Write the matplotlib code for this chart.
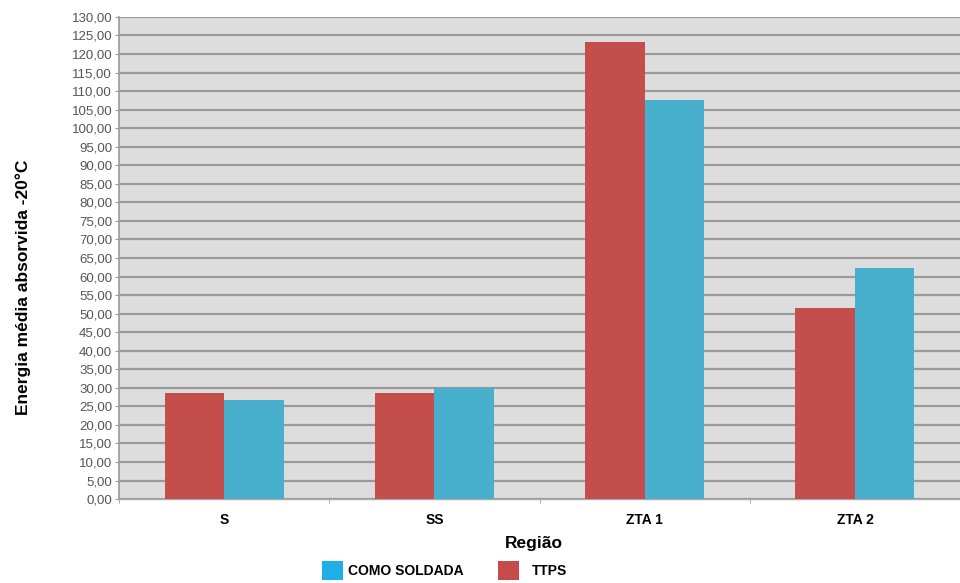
import matplotlib.pyplot as plt
import matplotlib.patches as patches
from matplotlib.ticker import FuncFormatter
import numpy as np

plt.rcParams['font.family'] = ['Liberation Sans', 'DejaVu Sans']

regioes = ['S', 'SS', 'ZTA 1', 'ZTA 2']
ttps = [28.6, 28.6, 123.2, 51.4]
como_soldada = [26.8, 30.0, 107.6, 62.4]
y_ticks = np.arange(0, 131, 5)

cor_ttps = '#c44e4c'
cor_cs = '#48afcc'

fig = plt.figure(figsize=(9.6, 5.83), dpi=100)
fig.patch.set_facecolor('white')
ax = fig.add_axes([0.124, 0.144, 0.876, 0.827])
ax.set_facecolor('#dddddd')

x = np.arange(len(regioes))
w = 0.283
ax.bar(x - w / 2, ttps, w, color=cor_ttps, zorder=3)
ax.bar(x + w / 2, como_soldada, w, color=cor_cs, zorder=3)

ax.set_ylim(0, 130)
ax.set_xlim(-0.5, 3.43)
ax.set_yticks(y_ticks)
ax.yaxis.set_major_formatter(FuncFormatter(lambda v, p: f'{v:.2f}'.replace('.', ',')))
ax.tick_params(axis='y', labelsize=9.5, labelcolor='#555555', color='#999999', length=3, pad=2)
ax.grid(axis='y', color='#9a9a9a', linewidth=1.6, zorder=1)

# category ticks sit between groups
ax.set_xticks(x)
ax.set_xticklabels(regioes, fontsize=10, fontweight='bold')
ax.tick_params(axis='x', length=0, pad=10)
ax.set_xticks(np.arange(-0.5, 4, 1), minor=True)
ax.tick_params(axis='x', which='minor', length=3, color='#999999')

for side in ['top', 'right']:
    ax.spines[side].set_visible(False)
ax.spines['left'].set_color('#999999')
ax.spines['bottom'].set_color('#aaaaaa')
ax.spines['left'].set_linewidth(1.2)
ax.spines['bottom'].set_linewidth(1.0)

ax.set_ylabel('Energia média absorvida -20°C', fontsize=12.5, fontweight='bold')
ax.yaxis.set_label_coords(-0.105, 0.44)
fig.text(0.556, 0.068, 'Região', fontsize=12.5, fontweight='bold', ha='center', va='center')

# legend drawn by hand at the bottom
fig.patches.append(patches.Rectangle((322 / 960, 3 / 583), 21 / 960, 19 / 583,
                                     facecolor='#1cb0e4', transform=fig.transFigure))
fig.text(348 / 960, 12 / 583, 'COMO SOLDADA', fontsize=10, fontweight='bold', va='center')
fig.patches.append(patches.Rectangle((498 / 960, 3 / 583), 21 / 960, 19 / 583,
                                     facecolor='#c84b4b', transform=fig.transFigure))
fig.text(532 / 960, 12 / 583, 'TTPS', fontsize=10, fontweight='bold', va='center')

plt.savefig('out.png', dpi=100)
